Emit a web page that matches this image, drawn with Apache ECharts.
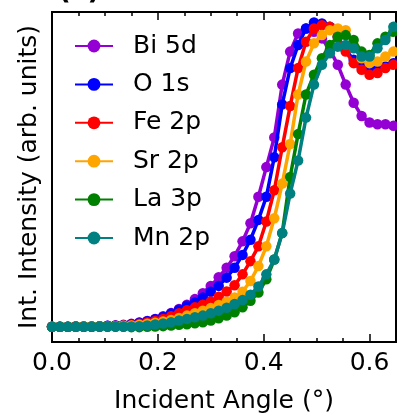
<!DOCTYPE html>
<html>
<head>
<meta charset="utf-8">
<script src="https://cdn.jsdelivr.net/npm/echarts@6/dist/echarts.min.js"></script>
<style>html,body{margin:0;padding:0;background:#fff}#c{width:397px;height:417px}</style>
</head>
<body>
<div id="c"></div>
<script>
const angle = [0, 0.015, 0.03, 0.045, 0.06, 0.075, 0.09, 0.105, 0.12, 0.135,
  0.15, 0.165, 0.18, 0.195, 0.21, 0.225, 0.24, 0.255, 0.27, 0.285,
  0.3, 0.315, 0.33, 0.345, 0.36, 0.375, 0.39, 0.405, 0.42, 0.435,
  0.45, 0.465, 0.48, 0.495, 0.51, 0.525, 0.54, 0.555, 0.57, 0.585,
  0.6, 0.615, 0.63, 0.645];

const bi5d = [0.046,0.046,0.046,0.047,0.047,0.047,0.048,0.049,0.050,0.052,
  0.055,0.059,0.064,0.070,0.078,0.088,0.100,0.113,0.130,0.148,
  0.170,0.196,0.225,0.260,0.305,0.360,0.440,0.530,0.620,0.780,
  0.880,0.935,0.950,0.940,0.920,0.885,0.840,0.780,0.725,0.685,
  0.665,0.660,0.660,0.655];
const o1s = [0.046,0.046,0.046,0.047,0.047,0.047,0.048,0.049,0.050,0.051,
  0.054,0.058,0.063,0.069,0.076,0.086,0.098,0.110,0.120,0.135,
  0.152,0.170,0.195,0.225,0.264,0.310,0.370,0.440,0.560,0.720,
  0.830,0.900,0.950,0.968,0.965,0.955,0.925,0.885,0.855,0.835,
  0.825,0.825,0.835,0.845];
const fe2p = [0.046,0.046,0.046,0.047,0.047,0.047,0.047,0.048,0.049,0.050,
  0.052,0.055,0.059,0.064,0.070,0.078,0.087,0.096,0.105,0.113,
  0.123,0.137,0.153,0.172,0.205,0.245,0.290,0.365,0.460,0.590,
  0.715,0.830,0.910,0.950,0.960,0.955,0.925,0.880,0.845,0.825,
  0.810,0.815,0.830,0.840];
const sr2p = [0.046,0.046,0.046,0.046,0.047,0.047,0.047,0.047,0.048,0.049,
  0.050,0.052,0.055,0.058,0.062,0.067,0.073,0.080,0.087,0.095,
  0.103,0.112,0.122,0.135,0.152,0.185,0.230,0.290,0.375,0.480,
  0.600,0.750,0.850,0.905,0.930,0.945,0.950,0.945,0.900,0.860,
  0.845,0.850,0.865,0.880];
const la3p = [0.046,0.046,0.046,0.046,0.046,0.046,0.046,0.046,0.046,0.046,
  0.045,0.045,0.046,0.047,0.048,0.050,0.052,0.054,0.057,0.060,
  0.065,0.072,0.080,0.090,0.105,0.125,0.150,0.190,0.250,0.330,
  0.500,0.630,0.750,0.810,0.860,0.900,0.925,0.930,0.915,0.880,
  0.870,0.905,0.925,0.940];
const mn2p = [0.046,0.046,0.046,0.046,0.046,0.046,0.047,0.047,0.047,0.047,
  0.047,0.048,0.050,0.053,0.056,0.060,0.065,0.070,0.075,0.080,
  0.087,0.095,0.104,0.115,0.127,0.143,0.168,0.205,0.250,0.330,
  0.450,0.550,0.680,0.780,0.840,0.875,0.895,0.900,0.890,0.865,
  0.865,0.890,0.915,0.955];

const seriesNames = ['Bi 5d', 'O 1s', 'Fe 2p', 'Sr 2p', 'La 3p', 'Mn 2p'];
const seriesValues = [bi5d, o1s, fe2p, sr2p, la3p, mn2p];
const colors = ['#9400D3', '#0000FF', '#FF0000', '#FFA500', '#008000', '#008080'];
const xTicksMajor = 0.2;
const xTicksMinor = 0.05;

const FONT = 'DejaVu Sans';
const chart = echarts.init(document.getElementById('c'), null, {renderer: 'canvas'});

const gridRect = {left: 52, right: 1, top: 12, bottom: 75, outerBoundsMode: 'none', containLabel: false};

const option = {
  animation: false,
  textStyle: {fontFamily: FONT},
  grid: [
    Object.assign({show: true, borderColor: '#000', borderWidth: 2, backgroundColor: 'transparent'}, gridRect),
    Object.assign({show: false}, gridRect)
  ],
  legend: {
    orient: 'vertical',
    left: 74,
    top: 33,
    padding: 0,
    itemWidth: 38,
    itemHeight: 16,
    itemGap: 12.4,
    selectedMode: false,
    data: seriesNames,
    textStyle: {fontFamily: FONT, fontSize: 25, color: '#000', lineHeight: 26, padding: [0, 0, 0, 15]}
  },
  graphic: [{
    type: 'text', left: 58, top: -22,
    style: {text: '(c)', font: 'bold 28px "DejaVu Sans"', fill: '#000'}
  }],
  xAxis: [
    {
      gridIndex: 0, type: 'value', position: 'bottom', min: 0, max: 0.65, interval: xTicksMajor,
      axisLine: {show: true, lineStyle: {color: '#000', width: 2}},
      axisTick: {show: true, inside: true, length: 8, lineStyle: {color: '#000', width: 1.5}},
      axisLabel: {show: true, fontFamily: FONT, fontSize: 25, color: '#000', margin: 9, showMaxLabel: false,
        formatter: v => v.toFixed(1)},
      splitLine: {show: false},
      name: 'Incident Angle (°)', nameLocation: 'middle', nameGap: 47,
      nameTextStyle: {fontFamily: FONT, fontSize: 25, color: '#000'}
    },
    {
      gridIndex: 0, type: 'value', position: 'top', min: 0, max: 0.65, interval: xTicksMajor,
      axisLine: {show: true, lineStyle: {color: '#000', width: 2}},
      axisTick: {show: true, inside: true, length: 8, lineStyle: {color: '#000', width: 1.5}},
      axisLabel: {show: false}, splitLine: {show: false}
    },
    {
      gridIndex: 1, type: 'value', position: 'bottom', min: 0, max: 0.65, interval: xTicksMinor,
      axisLine: {show: false},
      axisTick: {show: true, inside: true, length: 4, lineStyle: {color: '#000', width: 1.5}},
      axisLabel: {show: false}, splitLine: {show: false}
    },
    {
      gridIndex: 1, type: 'value', position: 'top', min: 0, max: 0.65, interval: xTicksMinor,
      axisLine: {show: false},
      axisTick: {show: true, inside: true, length: 4, lineStyle: {color: '#000', width: 1.5}},
      axisLabel: {show: false}, splitLine: {show: false}
    }
  ],
  yAxis: [
    {
      gridIndex: 0, type: 'value', min: 0, max: 1,
      axisLine: {show: true, lineStyle: {color: '#000', width: 2}},
      axisTick: {show: false}, axisLabel: {show: false}, splitLine: {show: false},
      name: 'Int. Intensity (arb. units)', nameLocation: 'middle', nameGap: 10, nameRotate: 90,
      nameTextStyle: {fontFamily: FONT, fontSize: 25, color: '#000'}
    },
    {gridIndex: 1, type: 'value', min: 0, max: 1, show: false}
  ],
  series: seriesNames.map((name, k) => ({
    name: name,
    type: 'line',
    xAxisIndex: 0, yAxisIndex: 0,
    data: angle.map((a, i) => [a, seriesValues[k][i]]),
    symbol: 'circle',
    symbolSize: 10.5,
    showSymbol: true,
    clip: true,
    color: colors[k],
    itemStyle: {color: colors[k]},
    lineStyle: {color: colors[k], width: 3.5},
    emphasis: {disabled: true},
    z: 2 + k
  }))
};
chart.setOption(option);
</script>
</body>
</html>
